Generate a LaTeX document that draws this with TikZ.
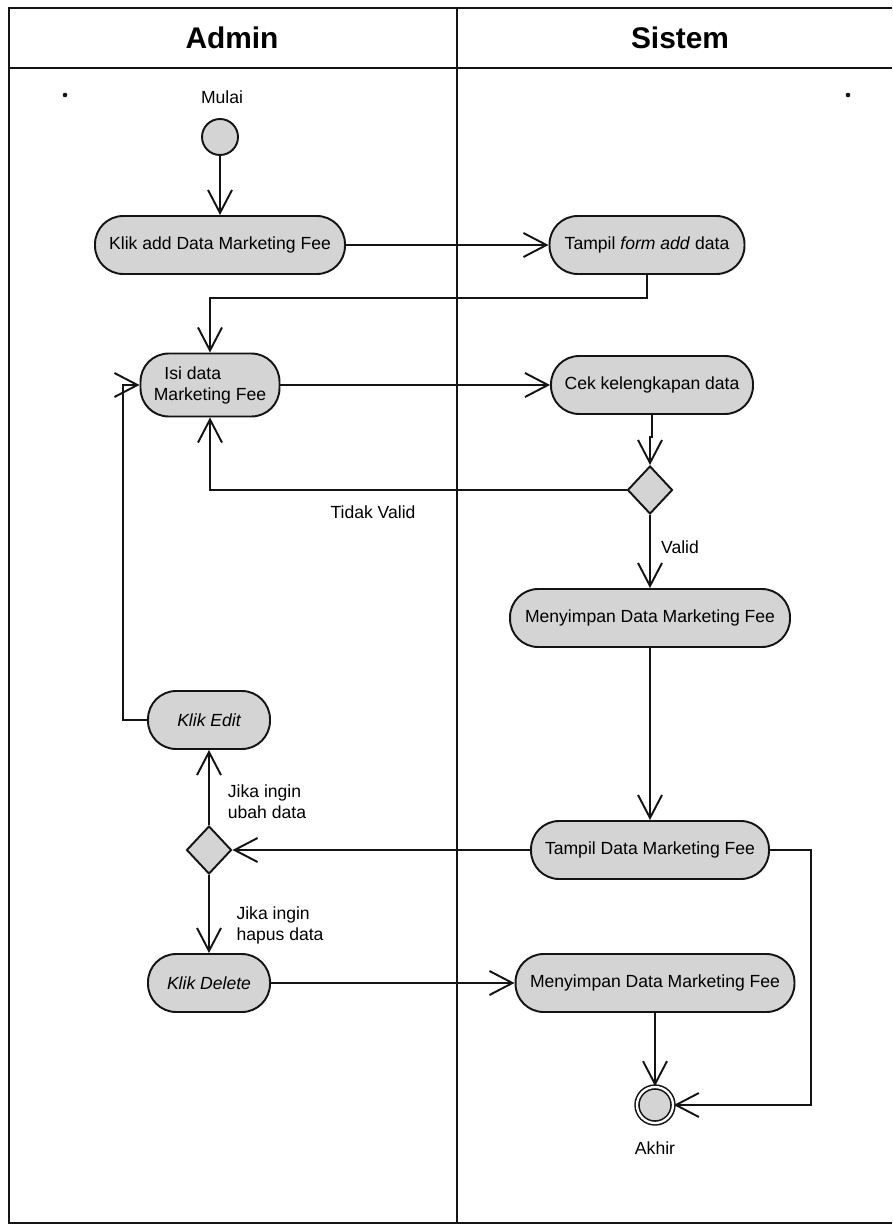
\documentclass[tikz,border=0pt]{standalone}
\usepackage{fontspec}
\setmainfont{Liberation Sans}
\usepackage{xcolor}
\usepackage{tikz}
\usetikzlibrary{arrows.meta,calc,positioning,shapes.geometric,shapes.misc}
\definecolor{ActGray}{HTML}{D4D4D4}
\definecolor{Ink}{HTML}{141414}

\begin{document}
\begin{tikzpicture}[x=0.02cm,y=-0.02cm,
  act/.style={draw=Ink,line width=1.1pt,rounded corners=16pt,fill=ActGray,minimum height=1.16cm,inner sep=2pt,align=center,font=\fontsize{10}{12}\selectfont},
  decision/.style={diamond,draw=Ink,line width=1.1pt,fill=ActGray,minimum width=0.9cm,minimum height=0.96cm,inner sep=0pt},
  startnode/.style={circle,draw=Ink,line width=1.1pt,fill=ActGray,minimum size=0.72cm,inner sep=0pt},
  endnode/.style={circle,draw=Ink,line width=0.9pt,double,double distance=1.3pt,fill=ActGray,minimum size=0.72cm,inner sep=0pt},
  lbl/.style={align=left,font=\fontsize{10}{12}\selectfont,inner sep=1pt},
  head/.style={font=\fontsize{17}{20}\selectfont\bfseries},
  lane/.style={draw=Ink,line width=1.6pt},
  arr/.style={-{Straight Barb[length=4.6mm,width=4.8mm,line width=1.1pt]},line width=1.1pt,draw=Ink}
]
\useasboundingbox (0,0) rectangle (892,1226);

% swimlanes
\draw[lane] (892,8) -- (9,8) -- (9,1223) -- (892,1223);
\draw[lane] (9,68) -- (892,68);
\draw[lane] (457,8) -- (457,1223);
\node[head] (admin) at (232,38) {Admin};
\node[head] (sistem) at (680,38) {Sistem};
\fill[Ink] (65,95) circle (1.3pt);
\fill[Ink] (848,95) circle (1.3pt);

% admin lane
\node[lbl] (mulai) at (222,97) {Mulai};
\node[startnode] (start) at (220,137) {};
\node[act,minimum width=5cm] (klikadd) at (220,245) {Klik add Data Marketing Fee};
\node[act,minimum width=2.78cm,minimum height=1.26cm,align=left] (isi) at (210,385) {\hspace*{6pt}Isi data\\Marketing Fee};
\node[act,minimum width=2.44cm] (klikedit) at (209,720) {\itshape Klik Edit};
\node[decision] (dec2) at (209,850) {};
\node[act,minimum width=2.44cm] (klikdel) at (209,983) {\itshape Klik Delete};

% sistem lane
\node[act,minimum width=3.9cm] (tampilform) at (647,245) {Tampil \textit{form add} data};
\node[act,minimum width=4.04cm] (cek) at (652,385) {Cek kelengkapan data};
\node[decision] (dec1) at (650,490) {};
\node[act,minimum width=5.6cm] (simpan1) at (650,618) {Menyimpan Data Marketing Fee};
\node[act,minimum width=4.76cm] (tampildata) at (650,850) {Tampil Data Marketing Fee};
\node[act,minimum width=5.58cm] (simpan2) at (655,983) {Menyimpan Data Marketing Fee};
\node[endnode] (akhirnode) at (655,1105) {};
\node[lbl] (akhir) at (655,1148) {Akhir};

% guards
\node[lbl] (tidakvalid) at (373,512) {Tidak Valid};
\node[lbl] (valid) at (680,547) {Valid};
\node[lbl] (ubah) at (267,802) {Jika ingin\\ubah data};
\node[lbl] (hapus) at (280,925) {Jika ingin\\hapus data};

% flows
\draw[arr] (start) -- (klikadd);
\draw[arr] (klikadd) -- (tampilform);
\draw[arr] (tampilform.south) -- ++(0,23) -| (isi.north);
\draw[arr] (isi.east) -- (cek.west);
\draw[arr] (cek.south) -- ++(0,22) -| (dec1.north);
\draw[arr] (dec1.west) -| (isi.south);
\draw[arr] (dec1.south) -- (simpan1.north);
\draw[arr] (simpan1) -- (tampildata);
\draw[arr] (tampildata.west) -- (dec2.east);
\draw[arr] (dec2.north) -- (klikedit.south);
\draw[arr] (dec2.south) -- (klikdel.north);
\draw[arr] (klikedit.west) -- (123,720) |- (isi.west);
\draw[arr] (klikdel) -- (simpan2);
\draw[arr] (simpan2) -- (akhirnode);
\draw[arr] (tampildata.east) -- (811,850) |- (akhirnode.east);
\end{tikzpicture}
\end{document}
